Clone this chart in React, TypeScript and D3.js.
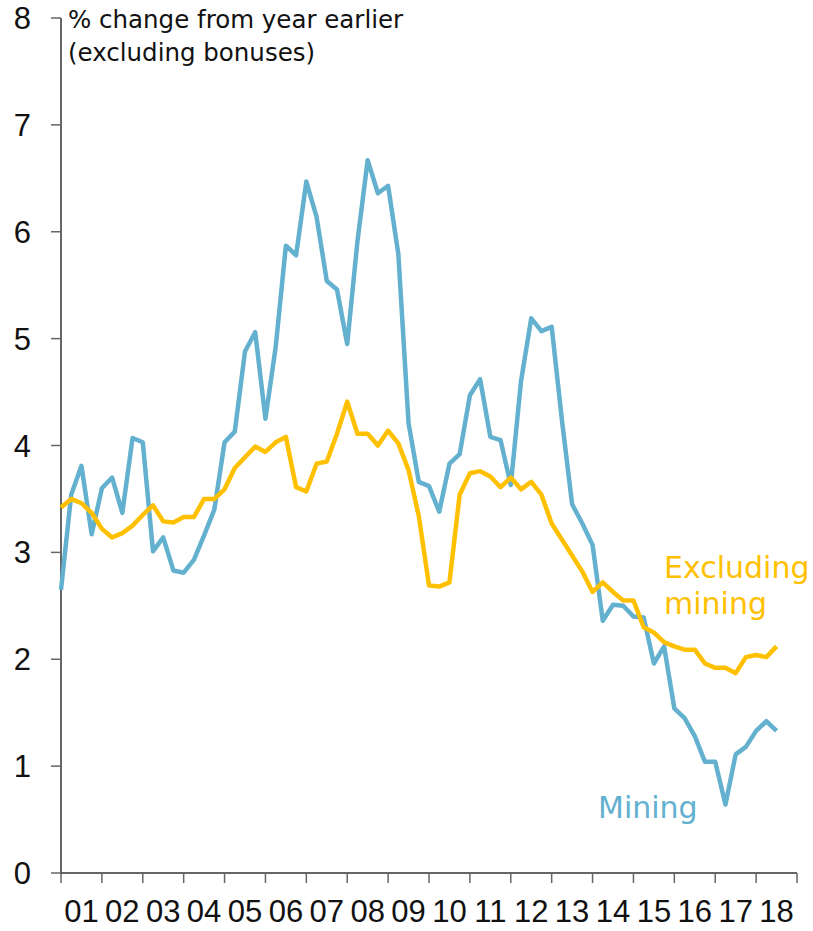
import React from "react";
import * as d3 from "d3";

const startYear = 2001;
const yearTickLabels = ["01","02","03","04","05","06","07","08","09","10","11","12","13","14","15","16","17","18"];
const yTickValues = [0, 1, 2, 3, 4, 5, 6, 7, 8];

// Quarterly, % change from year earlier (excluding bonuses)
const mining = [
  2.65,3.54,3.81,3.17,3.60,3.70,3.37,4.07,4.03,3.01,
  3.14,2.83,2.81,2.93,3.16,3.40,4.03,4.13,4.88,5.06,
  4.25,4.92,5.87,5.78,6.47,6.14,5.54,5.46,4.95,5.91,
  6.67,6.36,6.43,5.79,4.21,3.66,3.62,3.38,3.83,3.92,
  4.47,4.62,4.08,4.05,3.63,4.60,5.19,5.07,5.11,4.24,
  3.45,3.27,3.07,2.36,2.51,2.50,2.40,2.39,1.96,2.12,
  1.54,1.45,1.28,1.04,1.04,0.64,1.11,1.18,1.33,1.42,
  1.33
];
const excludingMining = [
  3.42,3.50,3.46,3.37,3.22,3.14,3.18,3.25,3.35,3.44,
  3.29,3.28,3.33,3.33,3.50,3.50,3.59,3.79,3.89,3.99,
  3.94,4.03,4.08,3.61,3.57,3.83,3.85,4.11,4.41,4.11,
  4.11,4.00,4.14,4.02,3.77,3.34,2.69,2.68,2.72,3.54,
  3.74,3.76,3.71,3.61,3.70,3.59,3.66,3.54,3.27,3.12,
  2.97,2.82,2.63,2.72,2.63,2.55,2.55,2.30,2.25,2.16,
  2.12,2.09,2.09,1.96,1.92,1.92,1.87,2.02,2.04,2.02,
  2.12
];

const BLUE = "#63B0CF";
const GOLD = "#FFC000";

export default function App() {
  const W = 813, H = 931;
  const x = d3.scaleLinear().domain([startYear, startYear + yearTickLabels.length]).range([61, 797]);
  const y = d3.scaleLinear().domain([0, 8]).range([873, 18]);
  const line = d3.line<number>()
    .x((_, i) => x(startYear + i / 4))
    .y((d) => y(d));
  const yearTicks = d3.range(startYear, startYear + yearTickLabels.length + 1);
  const numFont = "'Liberation Sans', Arial, sans-serif";
  const txtFont = "'DejaVu Sans', sans-serif";
  return (
    <svg width={W} height={H} style={{ position: "absolute", left: 0, top: 0, background: "#fff" }}>
      {/* y axis */}
      <line x1={x.range()[0]} x2={x.range()[0]} y1={y(8)} y2={y(0)} stroke="#333" strokeWidth={1.5} />
      {yTickValues.map((v) => (
        <g key={v}>
          <line x1={x.range()[0] - 10} x2={x.range()[0]} y1={y(v)} y2={y(v)} stroke="#666" strokeWidth={1.5} />
          <text x={31} y={y(v) + 11} textAnchor="end" fontFamily={numFont} fontSize={31} fill="#111">{v}</text>
        </g>
      ))}
      {/* x axis */}
      <line x1={x.range()[0]} x2={x.range()[1]} y1={y(0)} y2={y(0)} stroke="#333" strokeWidth={1.5} />
      {yearTicks.map((t) => (
        <line key={t} x1={x(t)} x2={x(t)} y1={y(0)} y2={y(0) + 10} stroke="#666" strokeWidth={1.5} />
      ))}
      {yearTickLabels.map((lab, i) => (
        <text key={lab} x={x(startYear + i + 0.5)} y={922} textAnchor="middle" fontFamily={numFont} fontSize={31} fill="#111">{lab}</text>
      ))}
      {/* axis title */}
      <text x={68} y={28} fontFamily={txtFont} fontSize={24.5} fill="#111">% change from year earlier</text>
      <text x={68} y={61} fontFamily={txtFont} fontSize={24.5} fill="#111">(excluding bonuses)</text>
      {/* lines */}
      <path d={line(mining) || ""} fill="none" stroke={BLUE} strokeWidth={4.5} strokeLinejoin="round" strokeLinecap="butt" />
      <path d={line(excludingMining) || ""} fill="none" stroke={GOLD} strokeWidth={4.5} strokeLinejoin="round" strokeLinecap="butt" />
      {/* series labels */}
      <text x={664} y={578} fontFamily={txtFont} fontSize={30} fill={GOLD}>Excluding</text>
      <text x={664} y={614} fontFamily={txtFont} fontSize={30} fill={GOLD}>mining</text>
      <text x={598} y={818} fontFamily={txtFont} fontSize={30} fill={BLUE}>Mining</text>
    </svg>
  );
}
